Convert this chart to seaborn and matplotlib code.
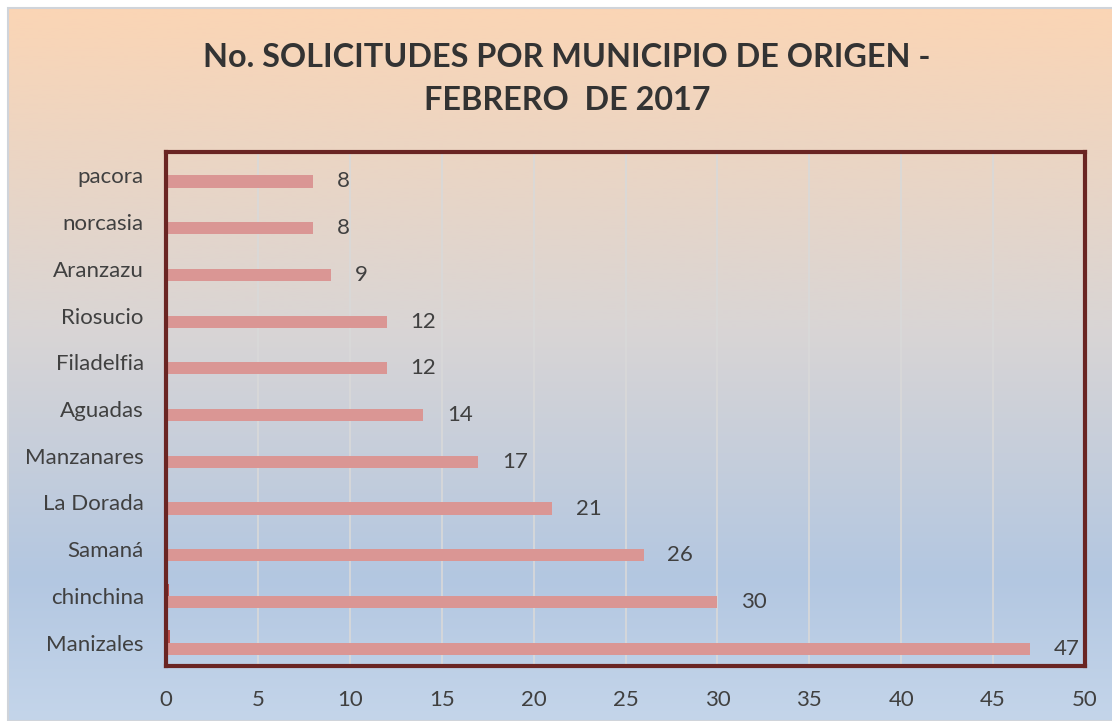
import numpy as np
import pandas as pd
import matplotlib
matplotlib.use("Agg")
import matplotlib.pyplot as plt
from matplotlib.colors import LinearSegmentedColormap
import seaborn as sns

municipios = ["pacora", "norcasia", "Aranzazu", "Riosucio", "Filadelfia", "Aguadas",
              "Manzanares", "La Dorada", "Samaná", "chinchina", "Manizales"]
solicitudes = [8, 8, 9, 12, 12, 14, 17, 21, 26, 30, 47]
porcentaje = [0.04, 0.04, 0.04, 0.06, 0.06, 0.07, 0.08, 0.10, 0.13, 0.15, 0.23]
x_ticks = [0, 5, 10, 15, 20, 25, 30, 35, 40, 45, 50]
title = "No. SOLICITUDES POR MUNICIPIO DE ORIGEN -\nFEBRERO  DE 2017"

df = pd.concat([
    pd.DataFrame({"mun": municipios, "val": porcentaje, "serie": "pct"}),
    pd.DataFrame({"mun": municipios, "val": solicitudes, "serie": "n"}),
])

sns.set_theme(style="white")
plt.rcParams["font.family"] = ["Lato", "DejaVu Sans"]

W, H = 1112, 721
fig = plt.figure(figsize=(W / 100, H / 100), dpi=100)
fig.patch.set_facecolor("white")

# gradient background
bg = fig.add_axes([8 / W, 0, 1 - 8 / W, 1 - 8 / H])
cmap = LinearSegmentedColormap.from_list(
    "g", [(0, "#FBD5B5"), (0.45, "#D9D5D5"), (0.8, "#B3C7E1"), (1, "#C4D5EA")])
grad = np.linspace(0, 1, 256).reshape(-1, 1)
bg.imshow(grad, aspect="auto", cmap=cmap, extent=[0, 1, 1, 0])
bg.set_axis_off()
fig.add_artist(plt.Rectangle((8 / W, 0), 1 - 8 / W + 0.01, 1 - 8 / H, transform=fig.transFigure,
                             fill=False, edgecolor="#D0D4DA", lw=1.5))

ax = fig.add_axes([166 / W, 1 - 666 / H, (1085 - 166) / W, (666 - 152) / H])
ax.set_facecolor("none")
sns.barplot(data=df, y="mun", x="val", hue="serie", hue_order=["pct", "n"],
            palette={"pct": "#C0504D", "n": "#DA9694"}, orient="h", width=0.52,
            dodge=True, ax=ax, legend=False, order=municipios, saturation=1,
            linewidth=0, edgecolor="none")

ax.set_xlim(0, 50)
ax.set_xticks(x_ticks)
ax.set_xticklabels([str(t) for t in x_ticks], fontsize=16, color="#404040")
ax.tick_params(axis="x", length=0, pad=17)
ax.tick_params(axis="y", length=0, pad=16, labelsize=16, labelcolor="#404040")
ax.set_xlabel("")
ax.set_ylabel("")
ax.grid(axis="x", color="#D9D9D9", lw=1.2)
ax.grid(axis="y", visible=False)
ax.set_axisbelow(True)
for s in ax.spines.values():
    s.set_visible(True)
    s.set_color("#6A2523")
    s.set_linewidth(3)

# data labels
cont = ax.containers[1]
for bar, v in zip(cont, solicitudes):
    ax.annotate(str(v), (bar.get_width(), bar.get_y() + bar.get_height() / 2),
                xytext=(17, 0), textcoords="offset points", va="center", ha="left",
                fontsize=16, color="#404040")

fig.text(567 / W, 1 - 79 / H, title, ha="center", va="center", fontsize=23.3,
         fontweight="bold", color="#333333", linespacing=1.62)

fig.savefig("out.png", dpi=100)
